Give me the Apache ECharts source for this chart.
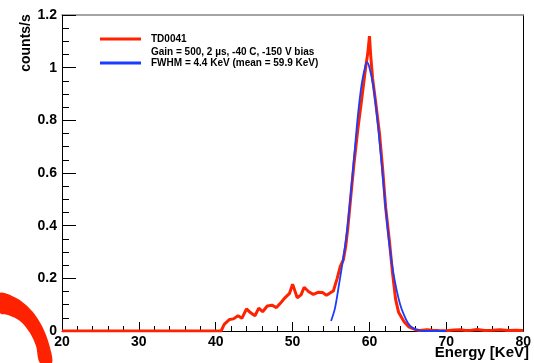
<!DOCTYPE html>
<html>
<head>
<meta charset="utf-8">
<script src="https://cdn.jsdelivr.net/npm/echarts@6/dist/echarts.min.js"></script>
<style>
  html, body { margin: 0; padding: 0; background: #fff; }
  #chart { width: 534px; height: 363px; }
</style>
</head>
<body>
<div id="chart"></div>
<script>
// measured spectrum (keV, counts/s)
const redEnergy = [20, 40.7, 41.1, 41.8, 42.3, 42.9, 43.4, 44.0, 44.5, 45.1, 45.6, 46.1, 46.7, 47.3, 47.9,
  48.4, 49.0, 49.6, 50.0, 50.6, 51.1, 51.5, 52.1, 52.7, 53.3, 53.9, 54.4, 54.8, 55.3, 55.8, 56.2,
  56.6, 56.9, 57.2, 57.6, 58.0, 58.5, 58.9, 59.2, 59.5, 59.8, 60.0, 60.15, 60.4, 60.8, 61.3, 61.7,
  62.1, 62.6, 63.0, 63.4, 63.8, 64.5, 65.1, 66.0, 66.5, 67.5, 68.2, 69, 70, 71, 71.8, 72.5, 73.3,
  74, 75, 76, 77, 78, 79, 80]
const redCounts = [0, 0, 0.025, 0.044, 0.046, 0.058, 0.048, 0.084, 0.07, 0.058, 0.087, 0.073, 0.095, 0.098, 0.089,
  0.105, 0.126, 0.143, 0.178, 0.126, 0.137, 0.166, 0.149, 0.139, 0.147, 0.146, 0.136, 0.143, 0.152, 0.2, 0.245,
  0.27, 0.32, 0.396, 0.52, 0.64, 0.77, 0.86, 0.93, 1.0, 1.06, 1.12, 1.05, 0.96, 0.87, 0.75, 0.62,
  0.47, 0.34, 0.22, 0.12, 0.07, 0.035, 0.016, 0.005, 0.002, 0.005, 0.003, 0.002, 0.001, 0.004, 0.005, 0.002, 0.003,
  0.006, 0.002, 0.003, 0.005, 0.002, 0.003, 0.002]

// gaussian fit curve
const blueEnergy = [55.0, 55.5, 56.0, 56.5, 57.0, 57.5, 58.0, 58.5, 59.0, 59.5, 59.7, 60.0, 60.5, 61.0, 61.5,
  62.0, 62.5, 63.0, 63.5, 64.0, 64.5, 65.0, 65.5, 66.0, 66.5, 67, 68, 69, 70]
const blueCounts = [0.038, 0.085, 0.17, 0.26, 0.36, 0.5, 0.66, 0.82, 0.94, 1.01, 1.02, 1.0, 0.93, 0.81, 0.66,
  0.5, 0.35, 0.24, 0.16, 0.1, 0.06, 0.03, 0.014, 0.006, 0.002, 0, 0, 0, 0]

const legendNames = ["TD0041", "FWHM = 4.4 KeV (mean = 59.9 KeV)"]
const legendNote = "Gain = 500, 2 \u00b5s, -40 C, -150 V bias"

const font = "'Liberation Sans', Arial, sans-serif"

const chart = echarts.init(document.getElementById("chart"))

const red = redEnergy.map((e, i) => [e, redCounts[i]])
const blue = blueEnergy.map((e, i) => [e, blueCounts[i]])

chart.setOption({
  animation: false,
  backgroundColor: "#fff",
  grid: { left: 62, right: 5, top: 15, bottom: 32 },
  legend: {
    left: 100,
    top: 34,
    padding: 0,
    orient: "vertical",
    itemGap: 14,
    itemWidth: 41,
    itemHeight: 3,
    icon: "rect",
    selectedMode: false,
    textStyle: { fontFamily: font, fontWeight: "bold", fontSize: 10, color: "#000", padding: [0, 0, 0, 5] },
    data: legendNames,
  },
  xAxis: [
    {
      type: "value",
      min: 20,
      max: 80,
      interval: 10,
      axisLine: { onZero: false, lineStyle: { color: "#000", width: 1 } },
      axisTick: { inside: true, length: 9, lineStyle: { color: "#000" } },
      minorTick: { show: true, splitNumber: 5, length: 5, lineStyle: { color: "#000" } },
      axisLabel: { margin: 4, fontFamily: font, fontWeight: "bold", fontSize: 14, color: "#000" },
      splitLine: { show: false },
    },
    {
      type: "value",
      position: "top",
      min: 20,
      max: 80,
      axisLine: { onZero: false, lineStyle: { color: "#888", width: 1.5 } },
      axisTick: { show: false },
      axisLabel: { show: false },
      splitLine: { show: false },
    },
  ],
  yAxis: [
    {
      type: "value",
      min: 0,
      max: 1.2,
      interval: 0.2,
      axisLine: { show: true, onZero: false, lineStyle: { color: "#000", width: 1 } },
      axisTick: { inside: true, length: 14, lineStyle: { color: "#000" } },
      minorTick: { show: true, splitNumber: 4, length: 7, lineStyle: { color: "#000" } },
      axisLabel: { margin: 5, fontFamily: font, fontWeight: "bold", fontSize: 14, color: "#000" },
      splitLine: { show: false },
    },
    {
      type: "value",
      position: "right",
      min: 0,
      max: 1.2,
      axisLine: { show: true, onZero: false, lineStyle: { color: "#000", width: 1 } },
      axisTick: { show: false },
      axisLabel: { show: false },
      splitLine: { show: false },
    },
  ],
  graphic: [
    {
      type: "text",
      x: 26,
      y: 43,
      rotation: Math.PI / 2,
      style: {
        text: "counts/s",
        font: "bold 14px " + font,
        fill: "#000",
        textAlign: "center",
        textVerticalAlign: "middle",
      },
    },
    {
      type: "text",
      right: 5,
      top: 345,
      style: { text: "Energy [KeV]", font: "bold 15px " + font, fill: "#000" },
    },
    {
      type: "text",
      left: 151,
      top: 47,
      style: { text: legendNote, font: "bold 10px " + font, fill: "#000" },
    },
    {
      type: "polygon",
      z: 10,
      shape: {
        smooth: 0.3,
        points: [[0, 293], [18, 299], [32, 311], [42, 326], [49, 344], [52, 363], [40, 363], [36, 346], [30, 333], [20, 321], [8, 315], [0, 313]],
      },
      style: { fill: "#ff2200" },
    },
  ],
  series: [
    {
      name: legendNames[0],
      type: "line",
      data: red,
      showSymbol: false,
      symbol: "none",
      color: "#ff2200",
      lineStyle: { color: "#ff2200", width: 3 },
      z: 3,
    },
    {
      name: legendNames[1],
      type: "line",
      data: blue,
      showSymbol: false,
      symbol: "none",
      smooth: 0.3,
      color: "#1a3cff",
      lineStyle: { color: "#1a3cff", width: 1.8 },
      z: 4,
    },
  ],
})
</script>
</body>
</html>
